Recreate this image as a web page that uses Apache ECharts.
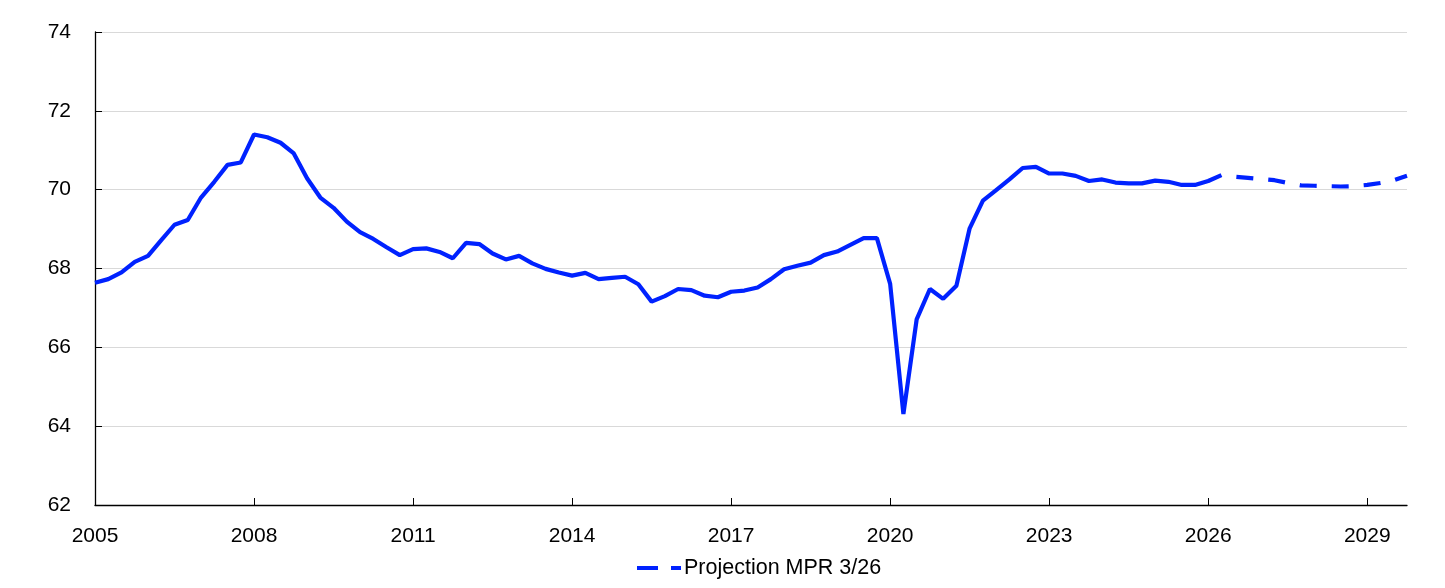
<!DOCTYPE html>
<html>
<head>
<meta charset="utf-8">
<title>Chart</title>
<script src="https://cdn.jsdelivr.net/npm/echarts@6/dist/echarts.min.js"></script>
<style>
  html, body { margin: 0; padding: 0; background: #fff; }
  #main { width: 1445px; height: 588px; }
</style>
</head>
<body>
<div id="main"></div>
<script>
// quarterly, 2005Q1 .. 2029Q4
var yearTicks = ['2005', '2008', '2011', '2014', '2017', '2020', '2023', '2026', '2029'];

var actual = [
  67.64, 67.73, 67.90, 68.17, 68.32, 68.72, 69.11, 69.23,   // 2005-2006
  69.80, 70.20, 70.63, 70.69, 71.40, 71.33, 71.19, 70.92,   // 2007-2008
  70.29, 69.80, 69.54, 69.19, 68.92, 68.75, 68.54, 68.34,   // 2009-2010
  68.49, 68.51, 68.42, 68.26, 68.65, 68.62, 68.38, 68.23,   // 2011-2012
  68.32, 68.13, 67.99, 67.90, 67.82, 67.89, 67.73, 67.76,   // 2013-2014
  67.79, 67.60, 67.16, 67.30, 67.48, 67.45, 67.31, 67.27,   // 2015-2016
  67.41, 67.44, 67.52, 67.73, 67.98, 68.07, 68.15, 68.34,   // 2017-2018
  68.43, 68.60, 68.77, 68.77, 67.61, 64.31, 66.71, 67.48,   // 2019-2020
  67.23, 67.56, 69.02, 69.72, 69.99, 70.26, 70.55, 70.58,   // 2021-2022
  70.41, 70.41, 70.35, 70.22, 70.26, 70.18, 70.16, 70.16,   // 2023-2024
  70.23, 70.20, 70.12, 70.12, 70.22, 70.37                  // 2025-2026Q2
];

// projection starts at the last actual quarter
var projection = [
  70.37, 70.33, 70.30, 70.27, 70.24, 70.17, 70.11, 70.10,
  70.09, 70.08, 70.09, 70.12, 70.17, 70.24, 70.35
];

var quarters = [];
for (var y = 2005; y <= 2029; y++) {
  for (var q = 1; q <= 4; q++) {
    quarters.push(y + 'Q' + q);
  }
}

var solidData = [];
var dashData = [];
var startProj = actual.length - 1;
for (var i = 0; i < quarters.length; i++) {
  solidData.push(i < actual.length ? actual[i] : null);
  dashData.push(i >= startProj ? projection[i - startProj] : null);
}

var chart = echarts.init(document.getElementById('main'));
var blue = '#0022ff';
var font = 'Liberation Sans';

chart.setOption({
  animation: false,
  backgroundColor: '#fff',
  textStyle: { fontFamily: font },
  grid: { left: 95, right: 38, top: 32, bottom: 83, containLabel: false },
  legend: {
    data: ['Projection MPR 3/26'],
    bottom: 4,
    left: 632,
    icon: 'path://M0,0H21V4H0Z M34,0H44V4H34Z',
    itemWidth: 44,
    itemHeight: 4,
    itemGap: 4,
    textStyle: { fontFamily: font, fontSize: 21.5, color: '#000', padding: [0, 0, 0, -2] }
  },
  xAxis: {
    type: 'category',
    data: quarters,
    boundaryGap: false,
    axisLine: { lineStyle: { color: '#000', width: 1.3 } },
    axisTick: { inside: true, interval: 11, length: 7, lineStyle: { color: '#000' } },
    axisLabel: {
      interval: 11,
      margin: 21,
      fontSize: 21,
      color: '#000',
      fontFamily: font,
      formatter: function (v) {
        var yr = v.slice(0, 4);
        return yearTicks.indexOf(yr) >= 0 ? yr : '';
      }
    },
    splitLine: { show: false }
  },
  yAxis: {
    type: 'value',
    min: 62,
    max: 74,
    interval: 2,
    axisLine: { show: true, lineStyle: { color: '#000', width: 1.3 } },
    axisTick: { show: true, inside: true, length: 7, lineStyle: { color: '#000' } },
    axisLabel: { margin: 24, fontSize: 21, color: '#000', fontFamily: font },
    splitLine: { lineStyle: { color: '#d9d9d9', width: 1 } }
  },
  series: [
    {
      name: 'Actual',
      type: 'line',
      data: solidData,
      symbol: 'none',
      connectNulls: false,
      lineStyle: { color: blue, width: 4.2 },
      itemStyle: { color: blue }
    },
    {
      name: 'Projection MPR 3/26',
      type: 'line',
      data: dashData,
      symbol: 'none',
      connectNulls: false,
      lineStyle: { color: blue, width: 4.2, type: [17, 15], dashOffset: 17 },
      itemStyle: { color: blue }
    }
  ]
});

window.addEventListener('resize', function () {
  chart.resize();
});
</script>
</body>
</html>
